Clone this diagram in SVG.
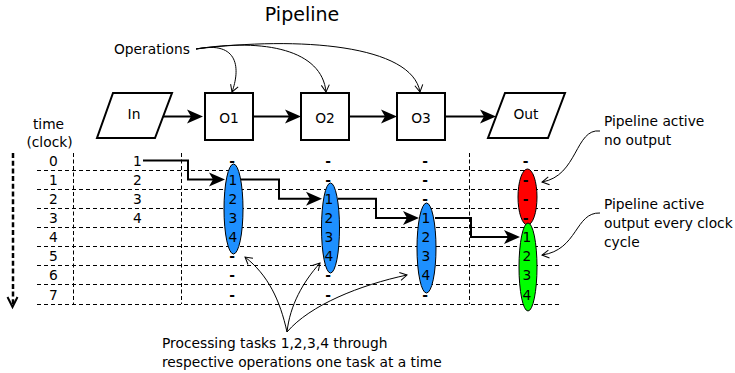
<svg xmlns="http://www.w3.org/2000/svg" width="735" height="373" viewBox="0 0 735 373">
  <style>
    text { font-family: "DejaVu Sans", "Liberation Sans", sans-serif; font-size: 13.8px; fill: #000; }
    .c { text-anchor: middle; }
    .d { text-anchor: middle; font-weight: bold; }
    .title { font-size: 19px; }
    .shape { fill: #fff; stroke: #000; stroke-width: 2; }
    .flow { fill: none; stroke: #000; stroke-width: 2; marker-end: url(#ah); }
    .note { fill: none; stroke: #000; stroke-width: 1; marker-end: url(#oh); }
    .grid { fill: none; stroke: #000; stroke-width: 1; stroke-dasharray: 4 3; }
    .vgrid { fill: none; stroke: #000; stroke-width: 1; stroke-dasharray: 4 2.5; }
    .cell { stroke: #000; stroke-width: 1; }
  </style>
  <defs>
    <marker id="ah" markerUnits="userSpaceOnUse" viewBox="-14 -8 20 16" markerWidth="20" markerHeight="16" refX="0" refY="0" orient="auto" overflow="visible">
      <path d="M4,0 L-12,-7 L-8,0 L-12,7 Z" fill="#000"/>
    </marker>
    <marker id="oh" markerUnits="userSpaceOnUse" viewBox="-9 -6 10 12" markerWidth="10" markerHeight="12" refX="0" refY="0" orient="auto" overflow="visible">
      <path d="M-7,-4 L0,0 L-7,4" fill="none" stroke="#000" stroke-width="1"/>
    </marker>
  </defs>

  <text class="title c" x="302" y="21">Pipeline</text>

  <!-- time axis -->
  <g id="time-axis">
    <text class="c" x="48.5" y="129">time</text>
    <text class="c" x="49.5" y="147">(clock)</text>
    <line x1="13" y1="153" x2="13" y2="304" stroke="#000" stroke-width="2.5" stroke-dasharray="5 2.7"/>
    <path d="M7.5,297 L12.5,307 L17.5,297" fill="none" stroke="#000" stroke-width="2"/>
    <text class="c" x="53.5" y="165.5">0</text>
    <text class="c" x="53.5" y="184.65">1</text>
    <text class="c" x="53.5" y="203.8">2</text>
    <text class="c" x="53.5" y="222.95">3</text>
    <text class="c" x="53.5" y="242.1">4</text>
    <text class="c" x="53.5" y="261.25">5</text>
    <text class="c" x="53.5" y="280.4">6</text>
    <text class="c" x="53.5" y="299.55">7</text>
  </g>

  <!-- clock grid -->
  <g id="grid">
    <path class="grid" d="M37,170.5H561 M37,189.5H561 M37,208.5H561 M37,227.5H561 M37,246.5H561 M37,265.5H561 M37,284.5H561 M37,304.5H561"/>
    <path class="vgrid" d="M73.5,153V304 M181.5,153V304 M469.5,153V304"/>
  </g>

  <!-- pipeline stages -->
  <g id="node-in">
    <path class="shape" d="M113,93 L172,93 L155,138 L97,138 Z"/>
    <text class="c" x="134" y="119">In</text>
  </g>
  <g id="node-o1">
    <rect class="shape" x="205" y="93" width="48" height="47"/>
    <text class="c" x="229" y="122.5">O1</text>
  </g>
  <g id="node-o2">
    <rect class="shape" x="301" y="93" width="48" height="47"/>
    <text class="c" x="325" y="122.5">O2</text>
  </g>
  <g id="node-o3">
    <rect class="shape" x="397" y="93" width="48" height="47"/>
    <text class="c" x="421" y="122.5">O3</text>
  </g>
  <g id="node-out">
    <path class="shape" d="M505,93 L565,93 L548,138 L488,138 Z"/>
    <text class="c" x="526" y="119">Out</text>
  </g>

  <!-- task input column -->
  <g id="tasks-in">
    <text class="c" x="137.5" y="165.5">1</text>
    <text class="c" x="137.5" y="184.65">2</text>
    <text class="c" x="137.5" y="203.8">3</text>
    <text class="c" x="137.5" y="222.95">4</text>
  </g>

  <!-- stage O1 activity -->
  <g id="slot-o1">
    <ellipse cx="233.5" cy="209" rx="9.5" ry="45" fill="#1e90ff" class="cell"/>
    <text class="d" x="232" y="165.5">-</text>
    <text class="c" x="233" y="184.65">1</text>
    <text class="c" x="233" y="203.8">2</text>
    <text class="c" x="233" y="222.95">3</text>
    <text class="c" x="233" y="242.1">4</text>
    <text class="d" x="232" y="261.25">-</text>
    <text class="d" x="232" y="280.4">-</text>
    <text class="d" x="232" y="299.55">-</text>
  </g>

  <!-- stage O2 activity -->
  <g id="slot-o2">
    <ellipse cx="330.5" cy="228" rx="9" ry="45" fill="#1e90ff" class="cell"/>
    <text class="d" x="328" y="165.5">-</text>
    <text class="d" x="328" y="184.65">-</text>
    <text class="c" x="329" y="203.8">1</text>
    <text class="c" x="329" y="222.95">2</text>
    <text class="c" x="329" y="242.1">3</text>
    <text class="c" x="329" y="261.25">4</text>
    <text class="d" x="328" y="280.4">-</text>
    <text class="d" x="328" y="299.55">-</text>
  </g>

  <!-- stage O3 activity -->
  <g id="slot-o3">
    <ellipse cx="426.5" cy="248" rx="9.5" ry="45" fill="#1e90ff" class="cell"/>
    <text class="d" x="425" y="165.5">-</text>
    <text class="d" x="425" y="184.65">-</text>
    <text class="d" x="425" y="203.8">-</text>
    <text class="c" x="426" y="222.95">1</text>
    <text class="c" x="426" y="242.1">2</text>
    <text class="c" x="426" y="261.25">3</text>
    <text class="c" x="426" y="280.4">4</text>
    <text class="d" x="425" y="299.55">-</text>
  </g>

  <!-- output activity -->
  <g id="slot-out">
    <ellipse cx="527.5" cy="197" rx="9.5" ry="28" fill="#ff0000" class="cell"/>
    <ellipse cx="528" cy="267" rx="9" ry="44" fill="#00ff00" class="cell"/>
    <text class="d" x="525.5" y="165.5">-</text>
    <text class="d" x="525.5" y="184.65">-</text>
    <text class="d" x="525.5" y="203.8">-</text>
    <text class="d" x="525.5" y="222.95">-</text>
    <text class="c" x="527" y="242.1">1</text>
    <text class="c" x="527" y="261.25">2</text>
    <text class="c" x="527" y="280.4">3</text>
    <text class="c" x="527" y="299.55">4</text>
  </g>

  <!-- annotations -->
  <g id="label-operations">
    <text x="114" y="54">Operations</text>
  </g>
  <g id="label-no-output">
    <text x="604" y="126">Pipeline active</text>
    <text x="604" y="145">no output</text>
  </g>
  <g id="label-output">
    <text x="604" y="208.5">Pipeline active</text>
    <text x="604" y="227.5">output every clock</text>
    <text x="604" y="246.5">cycle</text>
  </g>
  <g id="label-processing">
    <text x="162" y="348">Processing tasks 1,2,3,4 through</text>
    <text x="162" y="367">respective operations one task at a time</text>
  </g>

  <!-- connectors -->
  <g id="connectors">
    <path class="flow" d="M163,116.5 H199"/>
    <path class="flow" d="M253,116.5 H297"/>
    <path class="flow" d="M349,116.5 H393"/>
    <path class="flow" d="M445,116.5 H492"/>

    <path class="flow" d="M143,160.5 H188 V179.6 H221"/>
    <path class="flow" d="M241,179.6 H279 V198.8 H318"/>
    <path class="flow" d="M338,198.8 H376 V217.9 H415"/>
    <path class="flow" d="M435,217.9 H471 V237.1 H516"/>

    <path class="note" d="M196,49 C240,40 240,70 232,92"/>
    <path class="note" d="M196,49 C265,38 322,50 326,92"/>
    <path class="note" d="M196,49 C300,36 412,45 420,92"/>

    <path class="note" d="M600,131 C575,128 578,176 542,182"/>
    <path class="note" d="M600,213 C575,212 578,250 542,255"/>

    <path class="note" d="M287,332 C280,300 268,275 245,257"/>
    <path class="note" d="M287,332 C290,305 303,282 320,263"/>
    <path class="note" d="M287,332 C310,305 360,285 407,275"/>
  </g>
</svg>
